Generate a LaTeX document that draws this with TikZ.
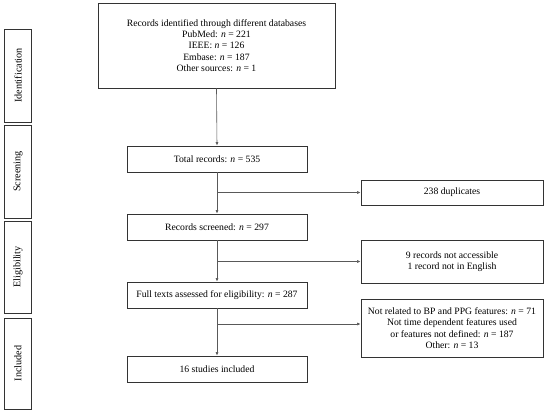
\documentclass[tikz,border=0pt]{standalone}
\usepackage{fontspec}
\setmainfont{Liberation Serif}
\usetikzlibrary{arrows.meta}
\begin{document}
\begin{tikzpicture}[x=1pt,y=-1pt,
  box/.style={draw=black!80, line width=0.8pt, inner sep=0pt, align=center, font=\fontsize{9.7}{11.4}\selectfont},
  side/.style={box, rotate=90, minimum height=27, font=\fontsize{10.2}{12}\selectfont},
  conn/.style={draw=black!65, line width=0.6pt},
  arr/.style={conn, -{Latex[length=3.5pt,width=3pt]}}]
\useasboundingbox (0,0) rectangle (550,412);
\node[side, minimum width=93] (s1) at (18,75.5) {Identification};
\node[side, minimum width=93] (s2) at (18,171.5) {Screening};
\node[side, minimum width=92] (s3) at (18,267) {Eligibility};
\node[side, minimum width=91] (s4) at (18,363.5) {Included};
\node[box, minimum width=237, minimum height=85] (src) at (216.5,45.5)
  {Records identified through different databases\\PubMed: \textit{n} = 221\\IEEE: \textit{n} = 126\\Embase: \textit{n} = 187\\Other sources: \textit{n} = 1};
\node[box, minimum width=180, minimum height=26] (tot) at (217,159) {Total records: \textit{n} = 535};
\node[box, minimum width=180, minimum height=26] (scr) at (217,227) {Records screened: \textit{n} = 297};
\node[box, minimum width=180, minimum height=26] (full) at (217,295) {Full texts assessed for eligibility: \textit{n} = 287};
\node[box, minimum width=180, minimum height=26] (inc) at (217,369) {16 studies included};
\node[box, minimum width=182, minimum height=25] (dup) at (452,192.5) {238 duplicates};
\node[box, minimum width=182, minimum height=43] (na) at (452,261.5) {9 records not accessible\\1 record not in English};
\node[box, minimum width=182, minimum height=58] (ex) at (452,328) {Not related to BP and PPG features: \textit{n} = 71\\Not time dependent features used\\or features not defined: \textit{n} = 187\\Other: \textit{n} = 13};
\coordinate (exin) at ([yshift=4]ex.west);
\draw[arr] (src.south) -- (tot.north);
\draw[arr] (tot.south) -- (scr.north);
\draw[arr] (scr.south) -- (full.north);
\draw[arr] (full.south) -- (inc.north);
\draw[arr] (tot.south |- dup.west) -- (dup.west);
\draw[arr] (scr.south |- na.west) -- (na.west);
\draw[arr] (full.south |- exin) -- (exin);
\end{tikzpicture}
\end{document}
